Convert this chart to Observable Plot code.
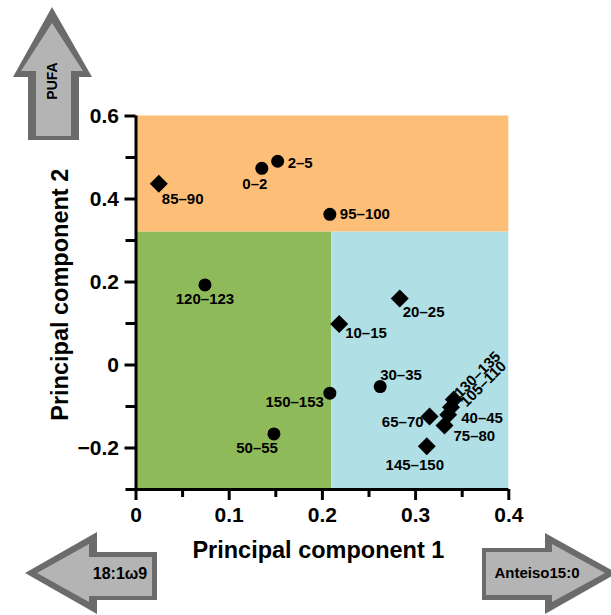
<!DOCTYPE html>
<html>
<head>
<meta charset="utf-8">
<script src="https://cdn.jsdelivr.net/npm/d3@7"></script>
<script src="https://cdn.jsdelivr.net/npm/@observablehq/plot@0.6"></script>
<style>
  body { margin: 0; background: #ffffff; }
  #chart { width: 611px; height: 615px; }
</style>
</head>
<body>
<div id="chart"></div>
<script>
// Sampling intervals and their scores on the first two principal components
const intervals = ["0–2", "2–5", "85–90", "95–100", "120–123", "10–15", "20–25", "30–35",
                   "150–153", "50–55", "65–70", "75–80", "145–150", "40–45", "105–110", "130–135"];
const pc1 = [0.135, 0.152, 0.0245, 0.208, 0.074, 0.218, 0.283, 0.262,
             0.208, 0.148, 0.315, 0.331, 0.312, 0.335, 0.338, 0.341];
const pc2 = [0.474, 0.491, 0.437, 0.363, 0.193, 0.099, 0.160, -0.052,
             -0.068, -0.166, -0.124, -0.146, -0.196, -0.120, -0.102, -0.083];
const markerShape = ["circle", "circle", "diamond", "circle", "circle", "diamond", "diamond", "circle",
                     "circle", "circle", "diamond", "diamond", "diamond", "diamond", "diamond", "diamond"];

// Shaded zones of the score plot
const zoneName = ["PUFA", "18:1ω9", "Anteiso15:0"];
const zoneX1 = [0, 0, 0.21];
const zoneX2 = [0.4, 0.21, 0.4];
const zoneY1 = [0.32, -0.3, -0.3];
const zoneY2 = [0.6, 0.32, 0.32];

// Axis ticks
const xTicks = [0, 0.1, 0.2, 0.3, 0.4];
const xTickLabels = ["0", "0.1", "0.2", "0.3", "0.4"];
const xMinorTicks = [0.05, 0.15, 0.25, 0.35];
const yTicks = [-0.2, 0, 0.2, 0.4, 0.6];
const yTickLabels = ["−0.2", "0", "0.2", "0.4", "0.6"];
const yMinorTicks = [-0.3, -0.1, 0.1, 0.3, 0.5];

const xTitle = "Principal component 1";
const yTitle = "Principal component 2";

// ---- styling ----
const zoneColor = {"PUFA": "#fdbe78", "18:1ω9": "#8fba5a", "Anteiso15:0": "#b0e0e6"};
const FONT = "Arial, 'Liberation Sans', Helvetica, sans-serif";

// label offsets relative to each marker
const labelPlacement = {
  "85–90":   {anchor: "start",  dx: 3,   dy: 16},
  "0–2":     {anchor: "middle", dx: -7,  dy: 16},
  "2–5":     {anchor: "start",  dx: 10,  dy: 2},
  "95–100":  {anchor: "start",  dx: 10,  dy: 0},
  "120–123": {anchor: "middle", dx: 0,   dy: 14},
  "10–15":   {anchor: "start",  dx: 6,   dy: 9},
  "20–25":   {anchor: "start",  dx: 3,   dy: 14},
  "30–35":   {anchor: "start",  dx: 0,   dy: -11},
  "150–153": {anchor: "end",    dx: -6,  dy: 9},
  "50–55":   {anchor: "end",    dx: 4,   dy: 14},
  "65–70":   {anchor: "end",    dx: -6,  dy: 6},
  "75–80":   {anchor: "start",  dx: 9,   dy: 11},
  "145–150": {anchor: "middle", dx: -12, dy: 19},
  "40–45":   {anchor: "start",  dx: 13,  dy: 3},
  "105–110": {anchor: "start",  dx: 12,  dy: -3, rotate: -45},
  "130–135": {anchor: "start",  dx: 3,   dy: -4, rotate: -45}
};

const points = intervals.map((label, i) => ({label, pc1: pc1[i], pc2: pc2[i], shape: markerShape[i]}));
const zones = zoneName.map((name, i) => ({name, x1: zoneX1[i], x2: zoneX2[i], y1: zoneY1[i], y2: zoneY2[i]}));

// Block arrows indicating the fatty acids loading each direction
const arrowShapes = [
  {
    outer: "52,7 92,77 79,77 79,140 28,140 28,77 13,77",
    inner: "52,23 83,71 71,71 71,136 36,136 36,71 21,71",
    text: "PUFA", tx: 52, ty: 81, rotate: -90, size: 14
  },
  {
    outer: "25,573 97,532 97,552 157,552 157,600 97,600 97,614",
    inner: "37,573 89,544 89,557 152,557 152,596 89,596 89,602",
    text: "18:1ω9", tx: 120, ty: 573, rotate: 0, size: 16
  },
  {
    outer: "482,548 545,548 545,533 617,573 545,614 545,600 482,600",
    inner: "486,552 552,552 552,544 605,573 552,602 552,595 486,595",
    text: "Anteiso15:0", tx: 537, ty: 573, rotate: 0, size: 15
  }
];

function directionArrows() {
  const g = d3.create("svg:g");
  for (const a of arrowShapes) {
    g.append("polygon").attr("points", a.outer).attr("fill", "#6b6b6b");
    g.append("polygon").attr("points", a.inner).attr("fill", "#b4b4b4");
    g.append("text")
      .attr("transform", `translate(${a.tx},${a.ty}) rotate(${a.rotate})`)
      .attr("text-anchor", "middle")
      .attr("dy", "0.35em")
      .attr("font-size", a.size)
      .attr("font-weight", "bold")
      .attr("fill", "#000")
      .text(a.text);
  }
  return g.node();
}

const labelMarks = points.map(p => {
  const o = labelPlacement[p.label];
  return Plot.text([p], {
    x: "pc1", y: "pc2", text: "label",
    textAnchor: o.anchor, lineAnchor: "middle",
    dx: o.dx, dy: o.dy, rotate: o.rotate || 0,
    fontSize: 15, fontWeight: "bold", fill: "#000"
  });
});

const chart = Plot.plot({
  width: 611,
  height: 615,
  marginLeft: 135.5,
  marginRight: 102.7,
  marginTop: 115.5,
  marginBottom: 126,
  style: {fontFamily: FONT, color: "#000", background: "#fff", overflow: "visible"},
  x: {domain: [0, 0.4]},
  y: {domain: [-0.3, 0.6]},
  marks: [
    directionArrows,
    Plot.rect(zones, {x1: "x1", x2: "x2", y1: "y1", y2: "y2", fill: d => zoneColor[d.name]}),
    // minor ticks
    Plot.axisX(xMinorTicks, {anchor: "bottom", tickSize: 8, strokeWidth: 3, tickFormat: () => "", label: null}),
    Plot.axisY(yMinorTicks, {anchor: "left", tickSize: 10, strokeWidth: 3, tickFormat: () => "", label: null}),
    // major ticks with labels
    Plot.axisX(xTicks, {
      anchor: "bottom", tickSize: 11, tickPadding: 7, strokeWidth: 3,
      tickFormat: d => xTickLabels[xTicks.indexOf(d)],
      fontSize: 21, fontWeight: "bold", label: null
    }),
    Plot.axisY(yTicks, {
      anchor: "left", tickSize: 11, tickPadding: 6, strokeWidth: 3,
      tickFormat: d => yTickLabels[yTicks.indexOf(d)],
      fontSize: 21, fontWeight: "bold", label: null
    }),
    // axis lines
    Plot.ruleX([0], {y1: -0.3, y2: 0.6, strokeWidth: 3, stroke: "#000"}),
    Plot.ruleY([-0.3], {x1: 0, x2: 0.4, strokeWidth: 3, stroke: "#000"}),
    // axis titles
    Plot.text([xTitle], {
      text: d => d, frameAnchor: "bottom", textAnchor: "middle", lineAnchor: "bottom",
      dx: -4, dy: 68, fontSize: 23.5, fontWeight: "bold", fill: "#000"
    }),
    Plot.text([yTitle], {
      text: d => d, frameAnchor: "left", textAnchor: "middle", lineAnchor: "bottom", rotate: -90,
      dx: -68, dy: -8, fontSize: 23.5, fontWeight: "bold", fill: "#000"
    }),
    // scores
    Plot.dot(points.filter(d => d.shape === "circle"), {x: "pc1", y: "pc2", r: 6.5, fill: "#000"}),
    Plot.dot(points.filter(d => d.shape === "diamond"), {x: "pc1", y: "pc2", symbol: "diamond2", r: 8.1, fill: "#000"}),
    ...labelMarks
  ]
});

document.getElementById("chart").append(chart);
</script>
</body>
</html>
